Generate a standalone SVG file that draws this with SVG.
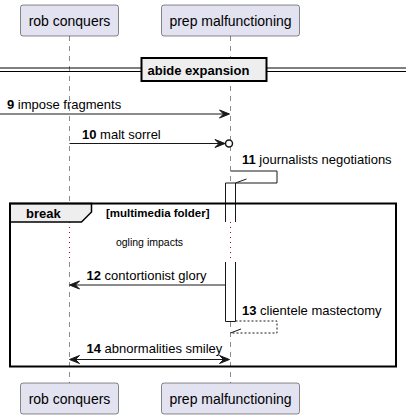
<svg xmlns="http://www.w3.org/2000/svg" width="412" height="419" viewBox="0 0 412 419">
<style>
.part{fill:#E2E2F0;stroke:#181818;stroke-width:0.5}
.ptxt{font-family:"Liberation Sans",Arial,sans-serif;font-size:14px;fill:#000;text-anchor:middle}
.life{stroke:#181818;stroke-width:0.5;stroke-dasharray:5,5;fill:none}
.delay{stroke:#A80036;stroke-width:1;stroke-dasharray:1,4;fill:none}
.msg{stroke:#181818;stroke-width:1;fill:none}
.dash{stroke:#181818;stroke-width:1;fill:none;stroke-dasharray:2,2}
.head{fill:#181818;stroke:#181818;stroke-width:1}
.mtxt{font-family:"Liberation Sans",Arial,sans-serif;font-size:13px;fill:#000}
.b{font-weight:bold}
.act{fill:#FFFFFF;stroke:none}
.actl{stroke:#181818;stroke-width:1;fill:none}
</style>
<g id="lifelines">
<line class="life" x1="69.5" y1="36" x2="69.5" y2="222"/>
<line class="delay" x1="69.5" y1="222" x2="69.5" y2="262"/>
<line class="life" x1="69.5" y1="262" x2="69.5" y2="383"/>
<line class="life" x1="230.5" y1="36" x2="230.5" y2="222"/>
<line class="delay" x1="230.5" y1="222" x2="230.5" y2="262"/>
<line class="life" x1="230.5" y1="262" x2="230.5" y2="383"/>
</g>
<g id="rob-conquers">
<rect class="part" x="20.5" y="5" width="98" height="31" rx="2.5"/>
<text class="ptxt" x="69.5" y="25.5">rob conquers</text>
</g>
<g id="prep-malfunctioning">
<rect class="part" x="161.5" y="5" width="138" height="31" rx="2.5"/>
<text class="ptxt" x="230.5" y="25.5">prep malfunctioning</text>
</g>
<g id="rob-conquers-bottom">
<rect class="part" x="20.5" y="383" width="98" height="31" rx="2.5"/>
<text class="ptxt" x="69.5" y="403.5">rob conquers</text>
</g>
<g id="prep-malfunctioning-bottom">
<rect class="part" x="161.5" y="383" width="138" height="31" rx="2.5"/>
<text class="ptxt" x="230.5" y="403.5">prep malfunctioning</text>
</g>
<g id="divider">
<line x1="0" y1="68" x2="406" y2="68" stroke="#000" stroke-width="1"/>
<line x1="0" y1="71.5" x2="406" y2="71.5" stroke="#000" stroke-width="1"/>
<rect x="141.5" y="58" width="125" height="23" fill="#EEEEEE" stroke="#000" stroke-width="2"/>
<text class="mtxt b" x="147.5" y="75">abide expansion</text>
</g>
<g id="activation">
<rect class="act" x="225.5" y="183" width="10" height="39"/>
<polyline class="actl" points="225.5,222 225.5,183 235.5,183 235.5,222"/>
<rect class="act" x="225.5" y="262" width="10" height="59.5"/>
<polyline class="actl" points="225.5,262 225.5,321.5 235.5,321.5 235.5,262"/>
</g>
<g id="connectors">
<line class="msg" x1="0" y1="114" x2="228" y2="114"/>
<polygon class="head" points="229.5,114 219.5,110 223.5,114 219.5,118"/>
<text class="mtxt" x="7" y="109"><tspan class="b">9</tspan> impose fragments</text>

<line class="msg" x1="69.5" y1="143.5" x2="224" y2="143.5"/>
<polygon class="head" points="225,143.5 215,139.5 219,143.5 215,147.5"/>
<circle cx="229" cy="143.5" r="3.5" fill="#FFFFFF" stroke="#181818" stroke-width="1.5"/>
<text class="mtxt" x="82" y="139"><tspan class="b">10</tspan> malt sorrel</text>

<polyline class="msg" points="230.5,171 277,171 277,183 235.5,183"/>
<line class="msg" x1="235.5" y1="183" x2="246.5" y2="179"/>
<text class="mtxt" x="242" y="164"><tspan class="b">11</tspan> journalists negotiations</text>

<line class="msg" x1="71" y1="285" x2="225.5" y2="285"/>
<polygon class="head" points="69.5,285 79.5,281 75.5,285 79.5,289"/>
<text class="mtxt" x="86.5" y="280"><tspan class="b">12</tspan> contortionist glory</text>

<polyline class="dash" points="235.5,321 277,321 277,333 230.5,333"/>
<line class="msg" x1="230.5" y1="333" x2="241" y2="329"/>
<text class="mtxt" x="242" y="315"><tspan class="b">13</tspan> clientele mastectomy</text>

<line class="msg" x1="71" y1="359.5" x2="228" y2="359.5"/>
<polygon class="head" points="69.5,359.5 79.5,355.5 75.5,359.5 79.5,363.5"/>
<polygon class="head" points="229.5,359.5 219.5,355.5 223.5,359.5 219.5,363.5"/>
<text class="mtxt" x="86.5" y="353"><tspan class="b">14</tspan> abnormalities smiley</text>
</g>
<g id="break-frame">
<polygon points="10,203.5 91.5,203.5 91.5,212 81.5,222 10,222" fill="#EEEEEE" stroke="#000" stroke-width="1.5"/>
<rect x="10" y="203.5" width="386" height="163" fill="none" stroke="#000" stroke-width="2"/>
<text class="mtxt b" x="26" y="217.5">break</text>
<text class="mtxt b" x="106" y="216.5" style="font-size:11.5px">[multimedia folder]</text>
</g>
<g id="delay">
<text class="mtxt" x="149.5" y="246" text-anchor="middle" style="font-size:10.5px">ogling impacts</text>
</g>
</svg>
